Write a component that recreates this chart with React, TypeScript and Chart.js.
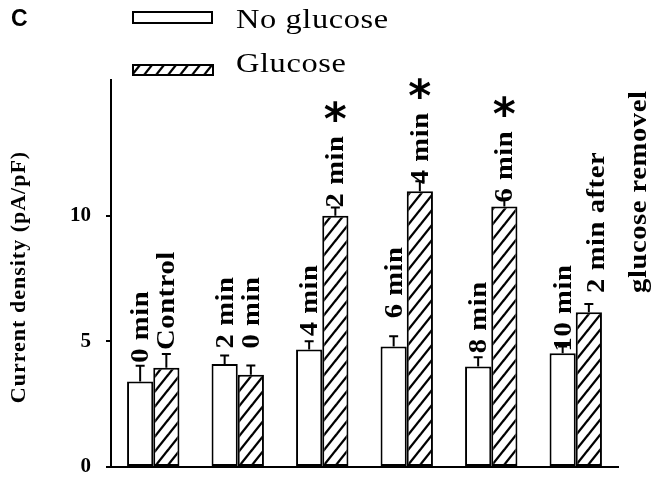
import React, { useEffect, useRef } from 'react';
import { Chart, registerables } from 'chart.js';

Chart.register(...registerables);

// ---- data ----
const categories = ['Group 1', 'Group 2', 'Group 3', 'Group 4', 'Group 5', 'Group 6'];
const noGlucoseValues = [3.4, 4.1, 4.68, 4.8, 4.0, 4.53];
const noGlucoseErrors = [0.63, 0.34, 0.32, 0.4, 0.37, 0.27];
const glucoseValues = [3.95, 3.67, 10.0, 10.97, 10.37, 6.16];
const glucoseErrors = [0.55, 0.37, 0.33, 0.4, 0.27, 0.33];
const noGlucoseLabels = [['0 min'], ['2 min'], ['4 min'], ['6 min'], ['8 min'], ['10 min']];
const glucoseLabels = [['Control'], ['0 min'], ['2 min'], ['4 min'], ['6 min'], ['2 min after', 'glucose removel']];
const glucoseSignificant = [false, false, true, true, true, false];
const yTicks = [0, 5, 10];
const yMax = 15.4;
const seriesNames = ['No glucose', 'Glucose'];
const panelLetter = 'C';
const yTitle = 'Current density (pA/pF)';

// ---- style (label gaps in px above the error bar) ----
const noGlucoseLabelGap = [3, 7, 5, 18, 4, -5];
const glucoseLabelGap = [4, 17, 0, -3, -3, 11];

function makeHatch(): CanvasPattern | string {
  const w = 12;
  const h = 15;
  const c = document.createElement('canvas');
  c.width = w;
  c.height = h;
  const g = c.getContext('2d');
  if (!g) return '#fff';
  g.fillStyle = '#fff';
  g.fillRect(0, 0, w, h);
  g.strokeStyle = '#000';
  g.lineWidth = 2.3;
  for (const k of [-1, 0, 1]) {
    g.beginPath();
    g.moveTo(k * w - w, 2 * h);
    g.lineTo(k * w + 2 * w, -h);
    g.stroke();
  }
  return g.createPattern(c, 'repeat') || '#fff';
}

export default function App() {
  const ref = useRef<HTMLCanvasElement | null>(null);

  useEffect(() => {
    if (!ref.current) return;
    const hatch = makeHatch();

    const annotate = {
      id: 'annotate',
      afterDatasetsDraw(chart: any) {
        const ctx: CanvasRenderingContext2D = chart.ctx;
        const y = chart.scales.y;
        const sets = [
          { values: noGlucoseValues, errors: noGlucoseErrors, labels: noGlucoseLabels, gaps: noGlucoseLabelGap, sig: null as boolean[] | null },
          { values: glucoseValues, errors: glucoseErrors, labels: glucoseLabels, gaps: glucoseLabelGap, sig: glucoseSignificant },
        ];
        const stretch = 1.1;
        sets.forEach((s, di) => {
          const meta = chart.getDatasetMeta(di);
          meta.data.forEach((bar: any, i: number) => {
            const top = y.getPixelForValue(s.values[i] + s.errors[i]);
            const base = y.getPixelForValue(s.values[i]);
            ctx.save();
            ctx.strokeStyle = '#000';
            ctx.lineWidth = 2;
            ctx.beginPath();
            ctx.moveTo(bar.x, base);
            ctx.lineTo(bar.x, top);
            ctx.moveTo(bar.x - 4.5, top);
            ctx.lineTo(bar.x + 4.5, top);
            ctx.stroke();

            ctx.font = 'bold 26px "Liberation Serif"';
            (ctx as any).letterSpacing = '0.5px';
            ctx.fillStyle = '#000';
            ctx.textAlign = 'left';
            ctx.textBaseline = 'alphabetic';
            const startY = top - s.gaps[i];
            const lines = s.labels[i];
            const multi = lines.length > 1;
            let maxW = 0;
            lines.forEach((line: string, li: number) => {
              ctx.save();
              ctx.translate(bar.x + (multi ? 15 : 8) + li * 42, startY);
              ctx.rotate(-Math.PI / 2);
              ctx.scale(stretch, 1);
              ctx.fillText(line, 0, 0);
              ctx.restore();
              maxW = Math.max(maxW, ctx.measureText(line).width * stretch);
            });
            if (s.sig && s.sig[i]) {
              ctx.font = 'bold 44px "DejaVu Sans"';
              (ctx as any).letterSpacing = '0px';
              const m = ctx.measureText('*');
              const gw = m.actualBoundingBoxRight + m.actualBoundingBoxLeft;
              const gh = m.actualBoundingBoxAscent + m.actualBoundingBoxDescent;
              const cx = bar.x;
              const cy = startY - maxW - 24;
              ctx.textAlign = 'left';
              ctx.fillText('*', cx - gw / 2 + m.actualBoundingBoxLeft, cy - gh / 2 + m.actualBoundingBoxAscent);
            }
            ctx.restore();
          });
        });
      },
      afterDraw(chart: any) {
        const ctx: CanvasRenderingContext2D = chart.ctx;
        ctx.save();
        ctx.fillStyle = '#000';
        // panel letter
        ctx.font = 'bold 23px "Liberation Sans"';
        ctx.textAlign = 'left';
        ctx.textBaseline = 'alphabetic';
        ctx.fillText(panelLetter, 11, 26);
        // y title
        ctx.save();
        ctx.font = 'bold 22px "Liberation Serif"';
        (ctx as any).letterSpacing = '1px';
        ctx.translate(19, 277);
        ctx.rotate(-Math.PI / 2);
        ctx.textAlign = 'center';
        ctx.textBaseline = 'middle';
        ctx.fillText(yTitle, 0, 0);
        ctx.restore();
        // legend
        ctx.lineWidth = 2;
        ctx.strokeStyle = '#000';
        ctx.fillStyle = '#fff';
        ctx.fillRect(133, 12, 79, 11);
        ctx.strokeRect(133, 12, 79, 11);
        ctx.fillStyle = hatch as any;
        ctx.fillRect(133, 65, 80, 10);
        ctx.strokeRect(133, 65, 80, 10);
        ctx.fillStyle = '#000';
        ctx.font = '27px "Liberation Serif"';
        (ctx as any).letterSpacing = '0.5px';
        ctx.textAlign = 'left';
        [[seriesNames[0], 28], [seriesNames[1], 72]].forEach(([t, by]) => {
          ctx.save();
          ctx.translate(236, by as number);
          ctx.scale(1.2, 1);
          ctx.fillText(t as string, 0, 0);
          ctx.restore();
        });
        ctx.restore();
      },
    };

    const chart = new Chart(ref.current, {
      type: 'bar',
      data: {
        labels: categories,
        datasets: [
          {
            label: seriesNames[0],
            data: noGlucoseValues,
            backgroundColor: '#fff',
            borderColor: '#000',
            borderWidth: 2,
            borderSkipped: false,
            categoryPercentage: 0.62,
            barPercentage: 1.0,
          },
          {
            label: seriesNames[1],
            data: glucoseValues,
            backgroundColor: hatch as any,
            borderColor: '#000',
            borderWidth: 2,
            borderSkipped: false,
            categoryPercentage: 0.62,
            barPercentage: 1.0,
          },
        ],
      },
      options: {
        responsive: false,
        animation: false,
        devicePixelRatio: 1,
        layout: { padding: { top: 80, right: 42, left: 0, bottom: 0 } },
        plugins: {
          legend: { display: false },
          tooltip: { enabled: false },
        },
        scales: {
          x: {
            offset: true,
            grid: { display: false },
            border: { display: true, color: '#000', width: 2 },
            ticks: { display: false },
            afterFit: (s: any) => {
              s.height = 13;
            },
          },
          y: {
            min: 0,
            max: yMax,
            afterBuildTicks: (s: any) => {
              s.ticks = yTicks.map((v) => ({ value: v }));
            },
            grid: {
              display: true,
              drawOnChartArea: false,
              drawTicks: true,
              tickLength: 5,
              color: '#000',
              lineWidth: 2,
            },
            border: { display: true, color: '#000', width: 2 },
            ticks: {
              color: '#000',
              padding: 15,
              font: { family: '"Liberation Serif"', size: 21, weight: 'bold' },
            },
            afterFit: (s: any) => {
              s.width = 111;
              s.paddingTop = 0;
              s.paddingBottom = 0;
            },
          },
        },
      },
      plugins: [annotate],
    } as any);

    return () => chart.destroy();
  }, []);

  return (
    <div style={{ position: 'absolute', left: 0, top: 0, width: 660, height: 480, background: '#fff' }}>
      <canvas ref={ref} width={660} height={480} />
    </div>
  );
}
